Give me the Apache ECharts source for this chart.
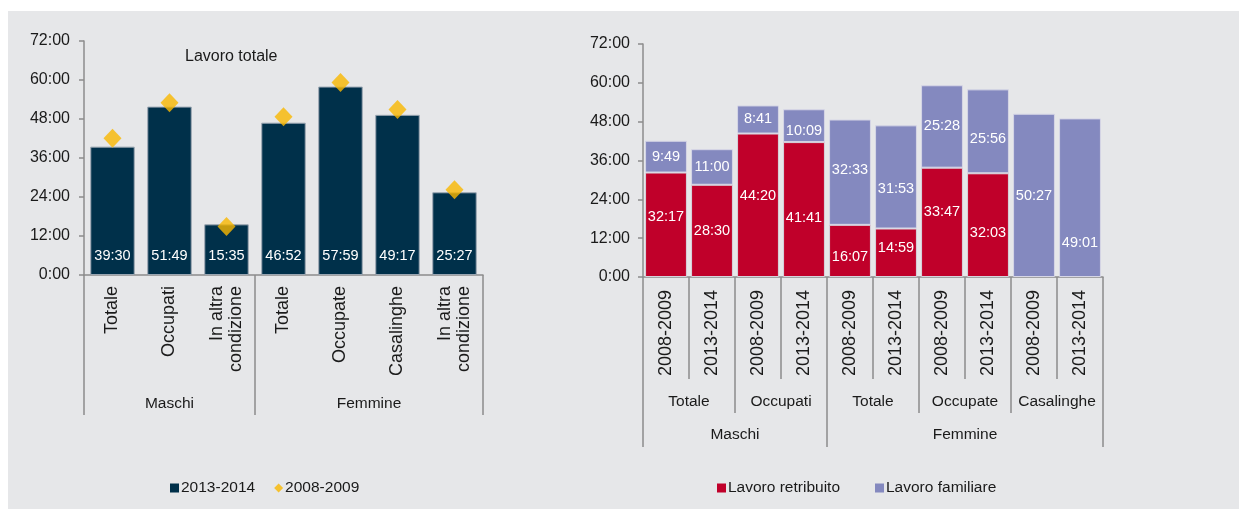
<!DOCTYPE html>
<html><head><meta charset="utf-8">
<script src="https://cdn.jsdelivr.net/npm/echarts@6/dist/echarts.min.js"></script>
<style>
html,body{margin:0;padding:0;background:#fff;}
#wrap{position:relative;width:1239px;height:509px;overflow:hidden;}
#panel{position:absolute;left:8px;top:11px;right:0;bottom:0;background:#e6e7e9;}
#chart{position:absolute;left:0;top:0;width:1239px;height:509px;}
</style></head>
<body><div id="wrap"><div id="panel"></div><div id="chart"></div></div>
<script>
// ---- data (hours:minutes) ----
const leftCategories = ['Totale', 'Occupati', 'In altra\ncondizione', 'Totale', 'Occupate', 'Casalinghe', 'In altra\ncondizione'];
const leftGroupNames = ['Maschi', 'Femmine'];
const leftGroupSizes = [3, 4];
const total2013 = ['39:30', '51:49', '15:35', '46:52', '57:59', '49:17', '25:27'];
const total2008 = ['42:06', '53:01', '14:56', '48:40', '59:15', '50:55', '26:13'];

const rightPeriods = ['2008-2009', '2013-2014', '2008-2009', '2013-2014', '2008-2009', '2013-2014', '2008-2009', '2013-2014', '2008-2009', '2013-2014'];
const rightSubNames = ['Totale', 'Occupati', 'Totale', 'Occupate', 'Casalinghe'];
const rightSubSizes = [2, 2, 2, 2, 2];
const rightGroupNames = ['Maschi', 'Femmine'];
const rightGroupSizes = [4, 6];
const paidWork = ['32:17', '28:30', '44:20', '41:41', '16:07', '14:59', '33:47', '32:03', null, null];
const familyWork = ['9:49', '11:00', '8:41', '10:09', '32:33', '31:53', '25:28', '25:56', '50:27', '49:01'];

const yTickMax = '72:00';
const yTickStep = '12:00';

// label vertical nudges (style only, px)
const paidLabelShift = [-8, 0, -9, 8, 6, -5, -10, 8, 0, 0];
const familyLabelShift = [0, 0, 0, 5, -2, 12, 0, 8, 1, 45];

// ---- helpers ----
const toMin = s => { if (s == null) return null; const [h, m] = s.split(':').map(Number); return h * 60 + m; };
const fmt = v => Math.floor(v / 60) + ':' + String(Math.round(v % 60)).padStart(2, '0');

const NAVY = '#00304a', GOLD = '#f9b800', RED = '#c0002a', LAV = '#8489bf';
const AXIS = '#8c8c8c', TXT = '#1a1a1a', FONT = '"Liberation Sans", Arial, sans-serif';

function levelAxis(gridIndex, names, sizes, tickLen, margin) {
  const n = sizes.reduce((a, b) => a + b, 0);
  const slots = [], text = [];
  for (let i = 0; i <= 2 * n; i++) { slots.push('s' + i); text.push(''); }
  const ticks = new Set([0]), labels = new Set();
  let s = 0;
  names.forEach((nm, i) => {
    const c = 2 * s + sizes[i];
    text[c] = nm; labels.add(c);
    s += sizes[i]; ticks.add(2 * s);
  });
  return {
    type: 'category', gridIndex, boundaryGap: false, data: slots, position: 'bottom', silent: true,
    axisLine: { show: false },
    axisTick: { show: true, length: tickLen, interval: i => ticks.has(i), lineStyle: { color: AXIS, width: 1.5 } },
    axisLabel: { interval: i => labels.has(i), formatter: (v, i) => text[i], margin, fontSize: 15.5, color: TXT, fontFamily: FONT },
    splitLine: { show: false }
  };
}

const yMax = toMin(yTickMax), yStep = toMin(yTickStep);
function yAxis(gridIndex, margin) {
  return {
    type: 'value', gridIndex, min: 0, max: yMax, interval: yStep,
    axisLine: { show: true, lineStyle: { color: AXIS, width: 1.5 } },
    axisTick: { show: true, length: 5, lineStyle: { color: AXIS, width: 1.5 } },
    axisLabel: { formatter: fmt, fontSize: 16, color: TXT, margin, fontFamily: FONT },
    splitLine: { show: false }
  };
}

const chart = echarts.init(document.getElementById('chart'), null, { renderer: 'canvas' });
chart.setOption({
  animation: false,
  backgroundColor: 'transparent',
  textStyle: { fontFamily: FONT },
  title: { text: 'Lavoro totale', left: 180, top: 44, textStyle: { fontSize: 16, fontWeight: 'normal', color: TXT, fontFamily: FONT } },
  grid: [
    { left: 84, top: 41, width: 399, height: 234, containLabel: false },
    { left: 643, top: 44, width: 460, height: 233, containLabel: false }
  ],
  legend: [
    { left: 165, top: 475, itemWidth: 9, itemHeight: 9, itemGap: 19, selectedMode: false,
      itemStyle: { borderWidth: 0 },
      textStyle: { fontSize: 15.5, color: TXT, fontFamily: FONT, padding: [0, 0, 0, -3] },
      data: [{ name: '2013-2014', icon: 'rect' }, { name: '2008-2009', icon: 'diamond' }] },
    { left: 712, top: 475, itemWidth: 9, itemHeight: 9, itemGap: 35, selectedMode: false,
      itemStyle: { borderWidth: 0 },
      textStyle: { fontSize: 15.5, color: TXT, fontFamily: FONT, padding: [0, 0, 0, -3] },
      data: [{ name: 'Lavoro retribuito', icon: 'rect' }, { name: 'Lavoro familiare', icon: 'rect' }] }
  ],
  xAxis: [
    { type: 'category', gridIndex: 0, data: leftCategories, silent: true,
      axisLine: { show: true, lineStyle: { color: AXIS, width: 1.5 } },
      axisTick: { show: false },
      axisLabel: { rotate: 90, interval: 0, margin: 11, fontSize: 18, lineHeight: 19, color: TXT, fontFamily: FONT } },
    levelAxis(0, leftGroupNames, leftGroupSizes, 140, 121),
    { type: 'category', gridIndex: 1, data: rightPeriods, silent: true,
      axisLine: { show: true, lineStyle: { color: AXIS, width: 1.5 } },
      axisTick: { show: true, interval: 0, length: 102, lineStyle: { color: AXIS, width: 1.5 } },
      axisLabel: { rotate: 90, interval: 0, margin: 13, fontSize: 18, color: TXT, fontFamily: FONT } },
    levelAxis(1, rightSubNames, rightSubSizes, 136, 117),
    levelAxis(1, rightGroupNames, rightGroupSizes, 170, 150)
  ],
  yAxis: [yAxis(0, 14), yAxis(1, 13)],
  series: [
    { name: '2013-2014', type: 'bar', xAxisIndex: 0, yAxisIndex: 0, barWidth: '78%',
      data: total2013.map(toMin),
      itemStyle: { color: NAVY, borderColor: '#9aa6b2', borderWidth: 1 },
      label: { show: true, position: 'insideBottom', distance: 12, color: '#fff', fontSize: 14.5, formatter: p => fmt(p.value), fontFamily: FONT } },
    { name: '2008-2009', type: 'scatter', xAxisIndex: 0, yAxisIndex: 0, symbol: 'diamond', symbolSize: [18, 19],
      data: total2008.map(toMin), itemStyle: { color: GOLD }, z: 5 },
    { name: 'Lavoro retribuito', type: 'bar', stack: 'r', xAxisIndex: 2, yAxisIndex: 1, barWidth: '91%',
      data: paidWork.map((v, i) => ({ value: toMin(v), label: { offset: [0, paidLabelShift[i]] } })),
      itemStyle: { color: RED, borderColor: '#d6d3dc', borderWidth: 1 },
      label: { show: true, position: 'inside', color: '#fff', fontSize: 14.5, fontFamily: FONT, formatter: p => p.value ? fmt(p.value) : '' } },
    { name: 'Lavoro familiare', type: 'bar', stack: 'r', xAxisIndex: 2, yAxisIndex: 1, barWidth: '91%',
      data: familyWork.map((v, i) => ({ value: toMin(v), label: { offset: [0, familyLabelShift[i]] } })),
      itemStyle: { color: LAV, borderColor: '#d6d6e6', borderWidth: 1 },
      label: { show: true, position: 'inside', color: '#fff', fontSize: 14.5, fontFamily: FONT, formatter: p => p.value ? fmt(p.value) : '' } }
  ]
});
</script>
</body></html>
